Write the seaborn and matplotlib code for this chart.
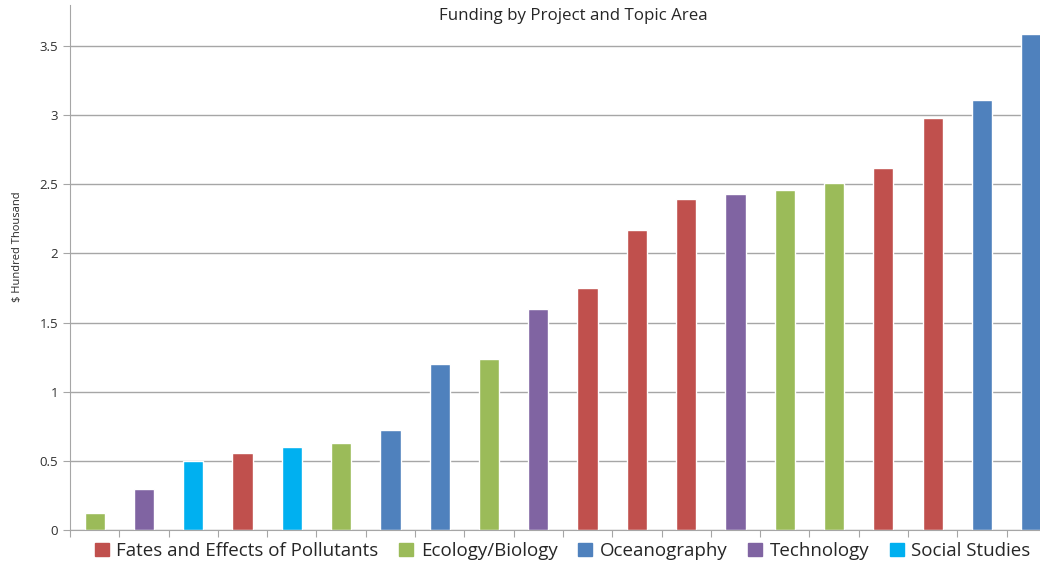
import numpy as np
import pandas as pd
import seaborn as sns
import matplotlib.pyplot as plt

# bar values, left to right ($ hundred thousand)
funding = [0.12, 0.30, 0.50, 0.56, 0.60, 0.63, 0.72, 1.20, 1.24, 1.60,
           1.75, 2.17, 2.39, 2.43, 2.46, 2.51, 2.62, 2.98, 3.11, 3.59]
topic = ['Ecology/Biology', 'Technology', 'Social Studies',
         'Fates and Effects of Pollutants', 'Social Studies', 'Ecology/Biology',
         'Oceanography', 'Oceanography', 'Ecology/Biology', 'Technology',
         'Fates and Effects of Pollutants', 'Fates and Effects of Pollutants',
         'Fates and Effects of Pollutants', 'Technology', 'Ecology/Biology',
         'Ecology/Biology', 'Fates and Effects of Pollutants',
         'Fates and Effects of Pollutants', 'Oceanography', 'Oceanography']
topic_order = ['Fates and Effects of Pollutants', 'Ecology/Biology',
               'Oceanography', 'Technology', 'Social Studies']
topic_colours = ['#C0504D', '#9BBB59', '#4F81BD', '#8064A2', '#00B0F0']

df = pd.DataFrame({'project': range(len(funding)),
                   'funding': funding,
                   'topic': topic})

sns.set_style('white')
plt.rcParams['font.family'] = ['Open Sans', 'DejaVu Sans']

fig = plt.figure(figsize=(10.4, 5.64), dpi=100)
ax = fig.add_axes([0.0673, 0.0603, 0.948, 0.9317])

sns.barplot(data=df, x='project', y='funding', hue='topic',
            hue_order=topic_order, palette=topic_colours,
            dodge=False, width=0.41, saturation=1, ax=ax, legend=False)

ax.set_ylim(0, 3.8)
ax.set_xlim(-0.5, len(funding) - 0.5)
ax.set_yticks(np.arange(0, 3.51, 0.5))
ax.set_yticklabels(['0', '0.5', '1', '1.5', '2', '2.5', '3', '3.5'])
ax.yaxis.grid(True, color='#A6A6A6', linewidth=1)
ax.set_axisbelow(True)

# category boundary ticks
ax.set_xticks(np.arange(-0.5, len(funding), 1))
ax.set_xticklabels([])
ax.tick_params(axis='x', direction='out', length=5, color='#A6A6A6', bottom=True)
ax.tick_params(axis='y', direction='out', length=5, color='#A6A6A6', left=True,
               labelsize=9.5, labelcolor='#303030')

for s in ['top', 'right']:
    ax.spines[s].set_visible(False)
for s in ['left', 'bottom']:
    ax.spines[s].set_color('#A6A6A6')

ax.set_xlabel('')
ax.set_ylabel('$ Hundred Thousand', fontsize=8)
ax.yaxis.set_label_coords(-0.048, 0.54)

fig.text(0.551, 0.972, 'Funding by Project and Topic Area', ha='center',
         va='center', fontsize=12.2)

handles = [plt.Rectangle((0, 0), 1, 1, color=c) for c in topic_colours]
fig.legend(handles, topic_order, loc='center', ncol=5,
           bbox_to_anchor=(0.541, 0.023), frameon=False, fontsize=13.5,
           handlelength=0.75, handleheight=0.75, handletextpad=0.4,
           columnspacing=1.1, borderpad=0)

fig.savefig('out.png', dpi=100)
